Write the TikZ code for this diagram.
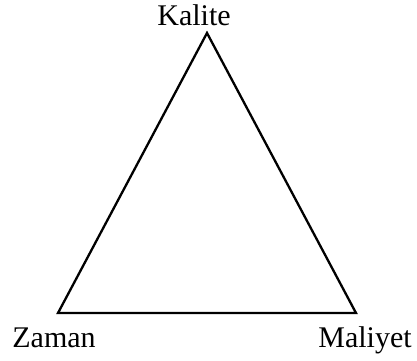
\documentclass[tikz,border=0pt]{standalone}
\usepackage{fontspec}
\setmainfont{Liberation Serif}
\usepackage{tikz}
\usetikzlibrary{positioning}

\begin{document}
\begin{tikzpicture}[
    x=1pt, y=1pt,
    every node/.style={font=\fontsize{30}{36}\selectfont},
    side/.style={line width=2.3pt, line join=miter, color=black},
    vlab/.style={anchor=base, inner sep=0pt}
]
\useasboundingbox (0,0) rectangle (417,360);
% Corners
\coordinate (kal) at (207,327);
\coordinate (zam) at (58,47);
\coordinate (mal) at (356,47);

% Labels
\node[vlab] (lkal) at (194,335) {Kalite};
\node[vlab] (lzam) at (54,13)   {Zaman};
\node[vlab] (lmal) at (365,13)  {Maliyet};

% Triangle
\draw[side] (kal) -- (zam) -- (mal) -- cycle;
\end{tikzpicture}
\end{document}
